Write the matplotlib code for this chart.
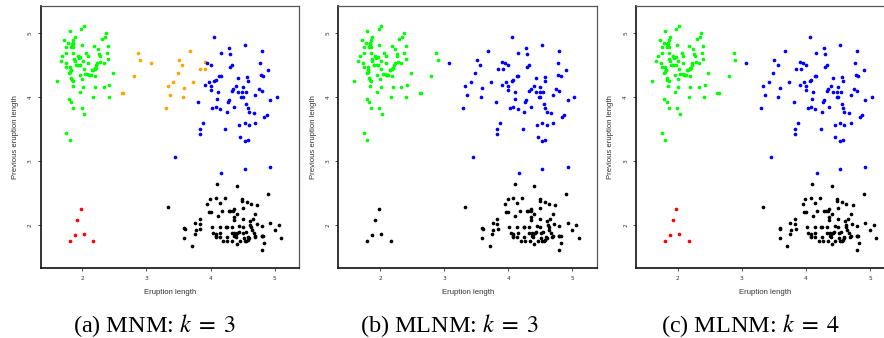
import numpy as np
import matplotlib.pyplot as plt

# points, grouped by the colour they have in panel (a)
green_x = [1.60, 1.66, 1.69, 1.72, 1.75, 1.75, 1.74, 1.75, 1.78, 1.79, 1.80, 1.81, 1.82, 1.81, 1.83,
           1.83, 1.84, 1.85, 1.85, 1.86, 1.86, 1.88, 1.86, 1.87, 1.88, 1.90, 1.91, 1.93, 1.94, 1.95,
           1.96, 1.97, 1.97, 1.98, 1.99, 2.00, 2.01, 2.02, 2.02, 2.04, 2.06, 2.08, 2.09, 2.09, 2.10,
           2.11, 2.13, 2.15, 2.16, 2.18, 2.19, 2.19, 2.20, 2.21, 2.22, 2.23, 2.24, 2.26, 2.27, 2.28,
           2.30, 2.33, 2.35, 2.37, 2.38, 2.40, 2.40, 2.48, 1.85, 1.86, 2.01, 2.20, 2.33, 2.42, 2.17,
           2.41, 1.79, 1.83, 1.86, 1.99, 2.03, 1.75, 1.80, 1.96, 1.84, 1.82]
green_y = [4.26, 4.57, 4.64, 4.89, 4.79, 4.70, 4.54, 4.48, 4.85, 4.375, 5.03, 4.48, 4.42, 4.40, 4.30,
           4.79, 4.83, 4.85, 4.83, 4.79, 4.90, 4.94, 4.70, 4.60, 4.57, 4.51, 4.51, 4.64, 4.62, 4.51,
           4.35, 4.63, 4.51, 5.07, 4.81, 4.29, 4.57, 5.11, 4.44, 4.37, 4.70, 4.37, 4.64, 4.53, 4.35,
           4.35, 4.35, 4.43, 4.42, 4.80, 4.45, 4.34, 4.46, 4.46, 4.51, 4.54, 4.75, 4.67, 4.65, 4.55,
           4.91, 4.54, 4.95, 5.01, 4.70, 4.80, 4.60, 4.375, 4.17, 4.26, 4.16, 4.16, 4.16, 4.19, 4.01,
           4.01, 3.97, 3.92, 3.84, 3.84, 3.74, 3.45, 3.34, 4.09, 4.27, 4.43]

# orange points that sit left of 3 and right of 3
orange_l_x = [2.875, 2.90, 2.80, 2.62, 2.64]
orange_l_y = [4.70, 4.58, 4.33, 4.07, 4.07]
orange_r_x = [3.07, 3.30, 3.33, 3.36, 3.42, 3.49, 3.51, 3.56, 3.59, 3.57, 3.68, 3.73, 3.84, 3.91, 3.92]
orange_r_y = [4.54, 3.84, 4.17, 4.04, 4.24, 4.38, 4.58, 4.51, 4.14, 4.01, 4.73, 4.24, 4.44, 4.55, 4.45]

blue_x = [4.06, 4.28, 4.53, 4.16, 4.30, 4.80, 3.95, 4.00, 4.33, 4.30, 4.77, 4.90, 4.135, 4.16, 4.78,
          4.82, 4.43, 4.57, 4.58, 4.08, 4.06, 3.97, 3.91, 4.00, 4.00, 4.11, 4.35, 4.33, 4.40, 4.43,
          4.50, 4.49, 4.48, 4.50, 4.55, 4.75, 4.80, 4.70, 4.93, 5.03, 3.81, 4.10, 4.28, 4.265, 4.03,
          4.08, 4.15, 4.36, 4.56, 4.58, 4.60, 4.67, 4.25, 4.70, 4.45, 4.53, 4.60, 4.875, 4.84, 3.88,
          3.83, 3.83, 4.23, 4.46, 4.58, 4.53, 3.45, 4.17, 4.53, 4.93]
blue_y = [4.94, 4.77, 4.82, 4.70, 4.67, 4.72, 4.53, 4.51, 4.51, 4.47, 4.54, 4.42, 4.34, 4.34, 4.35,
          4.34, 4.30, 4.32, 4.255, 4.27, 4.255, 4.24, 4.20, 4.17, 4.12, 4.09, 4.135, 4.10, 4.17, 4.09,
          4.16, 4.09, 4.00, 4.00, 4.09, 4.125, 4.10, 4.04, 3.96, 4.00, 3.92, 3.97, 3.96, 3.93, 3.84,
          3.85, 3.82, 3.85, 3.89, 3.83, 3.77, 3.75, 3.77, 3.60, 3.57, 3.60, 3.57, 3.72, 3.69, 3.60,
          3.505, 3.42, 3.505, 3.375, 3.34, 3.32, 3.07, 2.81, 2.885, 2.91]

black_x = [3.33, 3.59, 3.60, 3.59, 3.71, 3.75, 3.77, 3.76, 3.83, 3.83, 3.84, 3.95, 3.97, 4.00, 3.99,
           4.02, 4.04, 4.08, 4.08, 4.08, 4.10, 4.11, 4.14, 4.14, 4.15, 4.18, 4.20, 4.22, 4.24, 4.25,
           4.25, 4.26, 4.29, 4.31, 4.33, 4.33, 4.34, 4.35, 4.36, 4.36, 4.36, 4.37, 4.37, 4.39, 4.39,
           4.41, 4.41, 4.41, 4.42, 4.44, 4.45, 4.46, 4.49, 4.49, 4.50, 4.50, 4.50, 4.51, 4.52, 4.53,
           4.55, 4.56, 4.57, 4.58, 4.59, 4.60, 4.61, 4.62, 4.63, 4.63, 4.64, 4.66, 4.67, 4.69, 4.70,
           4.70, 4.73, 4.72, 4.80, 4.80, 4.80, 4.82, 4.80, 4.83, 4.90, 4.93, 5.00, 5.06, 5.10, 4.08,
           4.14]
black_y = [2.29, 1.96, 1.95, 1.80, 1.67, 1.87, 1.92, 2.04, 2.10, 2.02, 1.94, 2.34, 2.21, 2.21, 2.41,
           1.98, 1.875, 1.86, 1.81, 2.42, 2.65, 2.15, 1.98, 2.35, 1.875, 2.22, 1.76, 2.42, 1.97, 1.97,
           1.81, 1.76, 2.22, 2.22, 1.98, 1.875, 1.76, 2.23, 2.13, 2.09, 2.26, 1.885, 1.84, 1.87, 1.81,
           2.18, 2.62, 1.71, 1.875, 1.90, 1.99, 1.76, 2.41, 2.38, 2.27, 2.10, 1.98, 1.885, 1.80, 1.76,
           1.90, 1.76, 2.37, 1.77, 1.81, 1.80, 2.07, 2.00, 1.97, 2.33, 1.92, 2.10, 1.885, 1.82, 2.17,
           1.84, 2.31, 2.02, 1.99, 1.83, 1.84, 1.83, 1.61, 1.73, 2.49, 2.04, 1.93, 2.01, 1.80, 1.83,
           1.81]

red_x = [1.98, 1.92, 1.88, 2.02, 1.80, 2.17]
red_y = [2.255, 2.08, 1.855, 1.87, 1.755, 1.755]

groups = [(green_x, green_y), (orange_l_x, orange_l_y), (orange_r_x, orange_r_y),
          (blue_x, blue_y), (black_x, black_y), (red_x, red_y)]

# colour of each group in each panel
panel_colors = [
    ['#00ff00', '#ffa500', '#ffa500', '#0000ff', 'black', '#ff0000'],
    ['#00ff00', '#00ff00', '#0000ff', '#0000ff', 'black', 'black'],
    ['#00ff00', '#00ff00', '#0000ff', '#0000ff', 'black', '#ff0000'],
]
captions = [r'(a) MNM: $k\;=\;3$', r'(b) MLNM: $k\;=\;3$', r'(c) MLNM: $k\;=\;4$']
ticks = [2, 3, 4, 5]

plt.rcParams['mathtext.fontset'] = 'stix'

W, H = 884, 338
fig = plt.figure(figsize=(W / 100, H / 100), dpi=100)

lefts = [40.7, 338.3, 636.0]
cap_x = [154, 450, 750]
for i in range(3):
    ax = fig.add_axes([lefts[i] / W, 1 - 268 / H, 258.7 / W, 262 / H])
    for (gx, gy), c in zip(groups, panel_colors[i]):
        ax.scatter(gx, gy, s=7, c=c, linewidths=0)
    ax.set_xlim(1.35, 5.386)
    ax.set_ylim(1.333, 5.427)
    ax.set_xticks(ticks)
    ax.set_yticks(ticks)
    ax.tick_params(length=2.2, width=0.6, pad=3.5, labelsize=4.2, colors='#333333')
    for lab in ax.get_yticklabels():
        lab.set_rotation(90)
        lab.set_va('center')
    for side in ['left', 'bottom']:
        ax.spines[side].set_linewidth(1.2)
        ax.spines[side].set_color('#111111')
    for side in ['top', 'right']:
        ax.spines[side].set_linewidth(0.9)
        ax.spines[side].set_color('#555555')
    ax.set_xlabel('Eruption length', fontsize=5.6, family='Liberation Sans', color='#333333')
    ax.set_ylabel('Previous eruption length', fontsize=5.6, family='Liberation Sans', color='#333333')
    ax.xaxis.set_label_coords(0.5, -(292 - 268) / 262)
    ax.xaxis.label.set_va('center')
    ax.yaxis.set_label_coords(-25.2 / 258.7, 0.5)
    ax.yaxis.label.set_va('center')
    fig.text(cap_x[i] / W, 1 - 331.7 / H, captions[i], ha='center', va='baseline',
             fontsize=17.5, family='Liberation Serif')

fig.savefig('out.png', dpi=100)
